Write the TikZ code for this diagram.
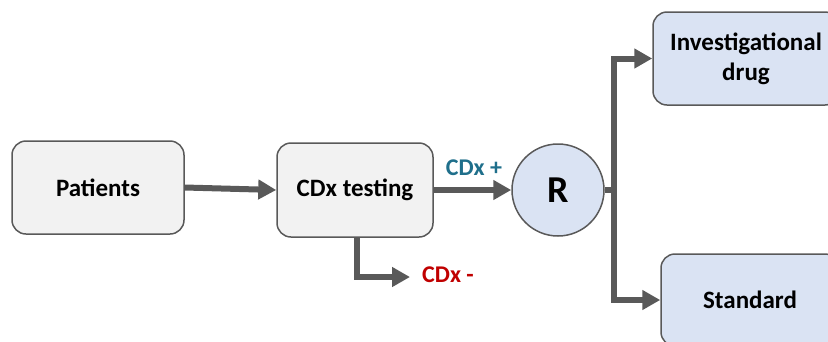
\documentclass[tikz,border=0pt]{standalone}
\usepackage{fontspec}
\setmainfont{Carlito}
\usetikzlibrary{arrows.meta}
\definecolor{edgegray}{HTML}{595959}
\definecolor{boxgray}{HTML}{F2F2F2}
\definecolor{boxblue}{HTML}{DAE3F3}
\definecolor{plusteal}{HTML}{1F6F8B}
\definecolor{minusred}{HTML}{C00000}
\tikzset{
  stagebox/.style={draw=edgegray, line width=1.5pt, rounded corners=14pt, font=\bfseries\fontsize{25}{30}\selectfont, align=center, inner sep=0pt},
  graybox/.style={stagebox, fill=boxgray},
  bluebox/.style={stagebox, fill=boxblue},
  flow/.style={draw=edgegray, line width=6pt, -{Triangle[length=18pt,width=19pt]}},
  flowline/.style={draw=edgegray, line width=6pt},
  lbl/.style={font=\bfseries\fontsize{24}{27}\selectfont, inner sep=0pt}
}
\begin{document}
\begin{tikzpicture}[x=1pt,y=-1pt]
\useasboundingbox (0,0) rectangle (828,341);
\clip (0,0) rectangle (828,341);
\node[graybox, minimum width=172pt, minimum height=93pt] (pat) at (98,187.5) {Patients};
\node[graybox, minimum width=156pt, minimum height=94pt] (cdx) at (355,190) {CDx testing};
\node[draw=edgegray, line width=1.5pt, fill=boxblue, circle, minimum size=92pt, inner sep=0pt, font=\bfseries\fontsize{38}{42}\selectfont] (r) at (558,190) {R};
\node[bluebox, minimum width=186pt, minimum height=93pt] (inv) at (746,58.5) {Investigational\\drug};
\node[bluebox, minimum width=178pt, minimum height=92pt] (std) at (750,300) {Standard};
\coordinate (split) at (614,190);
\coordinate (minusend) at (410,277);
\node[lbl, text=plusteal] (plus) at (474,168) {CDx +};
\node[lbl, text=minusred] (minus) at (448,275) {CDx -};
\draw[flow] (pat.east) -- (cdx.west);
\draw[flow] (cdx.east) -- (r.west);
\draw[flow] (cdx.south -| 357,0) |- (minusend);
\draw[flowline] (r.east) -- (split);
\draw[flow] (split) |- (inv.west);
\draw[flow] (split) |- (std.west);
\end{tikzpicture}
\end{document}
